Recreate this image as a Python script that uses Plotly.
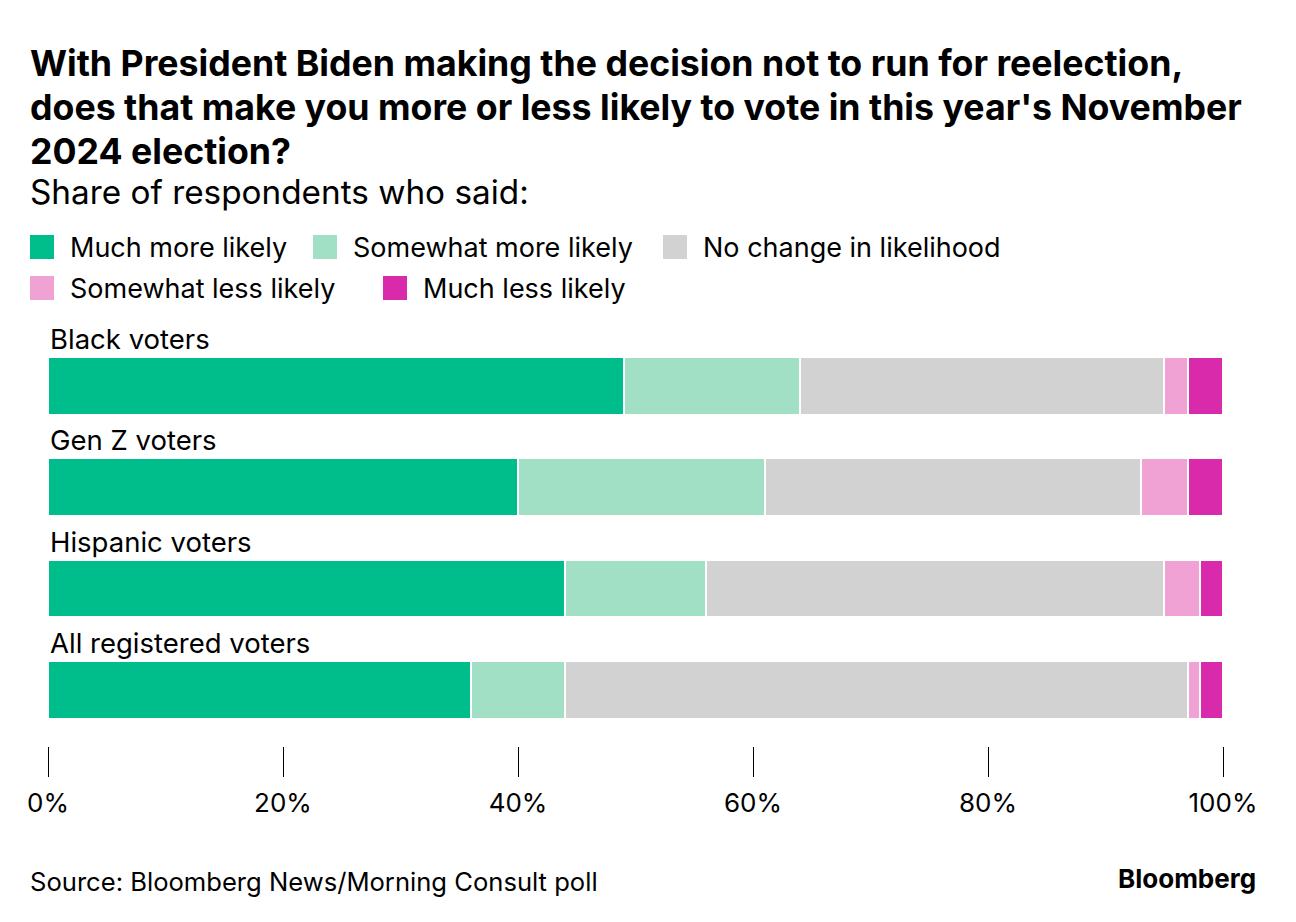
import plotly.graph_objects as go

categories = ["Black voters", "Gen Z voters", "Hispanic voters", "All registered voters"]
series_names = ["Much more likely", "Somewhat more likely", "No change in likelihood",
                "Somewhat less likely", "Much less likely"]
much_more = [49, 40, 44, 36]
somewhat_more = [15, 21, 12, 8]
no_change = [31, 32, 39, 53]
somewhat_less = [2, 4, 3, 1]
much_less = [3, 3, 2, 2]
series_values = [much_more, somewhat_more, no_change, somewhat_less, much_less]
colors = ["#00be8c", "#a2e0c6", "#d2d2d2", "#f0a2d5", "#d92aab"]
tick_vals = [0, 20, 40, 60, 80, 100]
tick_text = ["0%", "20%", "40%", "60%", "80%", "100%"]

FONT = "Inter"
OFF = 8  # page body margin
W, H = 1296 - 2 * OFF, 922 - 2 * OFF
L, T = 48 - OFF, 335 - OFF
R = W - (1223 - OFF)
B = H - (746 - OFF)
pw, ph = W - L - R, H - T - B

def px(x):
    return (x - OFF - L) / pw

def py(y):
    return (H - B - (y - OFF)) / ph

fig = go.Figure()
ypos = list(range(len(categories)))
for name, vals, col in zip(series_names, series_values, colors):
    fig.add_trace(go.Bar(
        x=vals, y=ypos, orientation="h", name=name,
        marker=dict(color=col, line=dict(color="white", width=2)),
        width=0.57, showlegend=False,
        hovertemplate=name + ": %{x}%<extra></extra>",
    ))

ann = []
title_lines = ["With President Biden making the decision not to run for reelection,",
               "does that make you more or less likely to vote in this year's November",
               "2024 election?"]
for i, line in enumerate(title_lines):
    ann.append(dict(text="<b>" + line + "</b>", x=px(28), y=py(63 + 44 * i), xref="paper", yref="paper",
                    xanchor="left", yanchor="middle", showarrow=False,
                    font=dict(family=FONT, size=35.7, color="#000")))
ann.append(dict(text="Share of respondents who said:", x=px(28), y=py(192), xref="paper", yref="paper",
                xanchor="left", yanchor="middle", showarrow=False,
                font=dict(family=FONT, size=33.3, color="#000")))

leg_pos = [(30, 247), (313, 247), (663, 247), (30, 288), (383, 288)]
shapes = []
for (lx, ly), name, col in zip(leg_pos, series_names, colors):
    shapes.append(dict(type="rect", xref="paper", yref="paper",
                       x0=px(lx), x1=px(lx + 24), y0=py(ly - 12), y1=py(ly + 12),
                       fillcolor=col, line=dict(width=0)))
    ann.append(dict(text=name, x=px(lx + 38), y=py(ly), xref="paper", yref="paper",
                    xanchor="left", yanchor="middle", showarrow=False,
                    font=dict(family=FONT, size=27, color="#000")))

for i, c in enumerate(categories):
    ann.append(dict(text=c, x=0, y=i, xref="paper", yref="y", xanchor="left", yanchor="bottom",
                    yshift=28, showarrow=False, font=dict(family=FONT, size=27.5, color="#000")))

ann.append(dict(text="Source: Bloomberg News/Morning Consult poll", x=px(28), y=py(881),
                xref="paper", yref="paper", xanchor="left", yanchor="middle", showarrow=False,
                font=dict(family=FONT, size=25.6, color="#000")))
ann.append(dict(text="<b>Bloomberg</b>", x=px(1258), y=py(878),
                xref="paper", yref="paper", xanchor="right", yanchor="middle", showarrow=False,
                font=dict(family=FONT, size=26, color="#000")))

fig.update_layout(
    width=W, height=H, barmode="stack",
    margin=dict(l=L, r=R, t=T, b=B, pad=0),
    paper_bgcolor="white", plot_bgcolor="white",
    annotations=ann, shapes=shapes,
    xaxis=dict(range=[0, 100], tickvals=tick_vals, ticktext=tick_text, ticks="outside",
               ticklen=30, tickwidth=1, tickcolor="#000", showgrid=False, zeroline=False,
               showline=False, ticklabelstandoff=4,
               tickfont=dict(family=FONT, size=26, color="#000")),
    yaxis=dict(range=[3.553, -0.5], showticklabels=False, showgrid=False, zeroline=False,
               showline=False, ticks=""),
    font=dict(family=FONT),
)
fig.write_html("out.html")
